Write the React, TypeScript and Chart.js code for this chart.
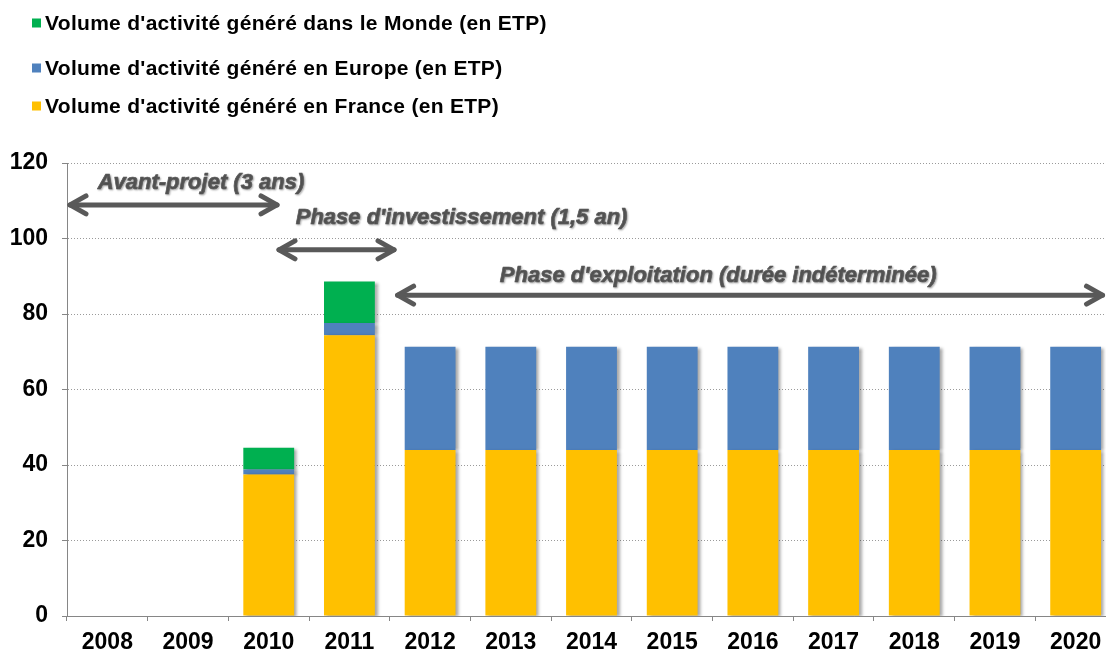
import React, { useEffect, useRef } from "react";
import { Chart, registerables } from "chart.js";

Chart.register(...registerables);

const years = ["2008", "2009", "2010", "2011", "2012", "2013", "2014", "2015", "2016", "2017", "2018", "2019", "2020"];
const franceValues = [null, null, 37.5, 74.4, 44, 44, 44, 44, 44, 44, 44, 44, 44];
const europeValues = [null, null, 1.3, 3.2, 27.3, 27.3, 27.3, 27.3, 27.3, 27.3, 27.3, 27.3, 27.3];
const mondeValues = [null, null, 5.8, 11, null, null, null, null, null, null, null, null, null];

const seriesLabels = [
  "Volume d'activité généré en France (en ETP)",
  "Volume d'activité généré en Europe (en ETP)",
  "Volume d'activité généré dans le Monde (en ETP)",
];
const seriesColors = ["#FFC000", "#4F81BD", "#00B050"];

const yTicks = [0, 20, 40, 60, 80, 100, 120];

const phaseLabels = [
  "Avant-projet (3 ans)",
  "Phase d'investissement (1,5 an)",
  "Phase d'exploitation (durée indéterminée)",
];
const phaseLabelX = [1.16, 4.39, 7.57];
const phaseLabelY = [114.8, 105.4, 90];
const phaseArrowStart = [-0.5, 2.09, 3.56];
const phaseArrowEnd = [2.14, 3.59, 12.37];
const phaseArrowY = [108.9, 97, 85];

const FONT = "'Liberation Sans', Arial, sans-serif";

const legendPlugin = {
  id: "customLegend",
  afterDraw(chart: any) {
    const ctx = chart.ctx;
    const ds = chart.data.datasets;
    const rowsY = [23, 68, 106];
    ctx.save();
    ctx.font = `bold 21px ${FONT}`;
    (ctx as any).letterSpacing = "0.3px";
    ctx.textBaseline = "middle";
    ctx.textAlign = "left";
    for (let r = 0; r < ds.length; r++) {
      const d = ds[ds.length - 1 - r];
      const y = rowsY[r];
      ctx.fillStyle = d.backgroundColor;
      ctx.fillRect(32, y - 4.5, 9, 9);
      ctx.fillStyle = "#000";
      ctx.fillText(d.label, 45, y + 1);
    }
    ctx.restore();
  },
};

const shadowPlugin = {
  id: "barShadow",
  beforeDatasetsDraw(chart: any) {
    const ctx = chart.ctx;
    ctx.save();
    ctx.shadowColor = "rgba(0,0,0,0.35)";
    ctx.shadowOffsetX = 3;
    ctx.shadowOffsetY = 1;
    ctx.shadowBlur = 3;
  },
  afterDatasetsDraw(chart: any) {
    chart.ctx.restore();
  },
};

function drawHead(ctx: CanvasRenderingContext2D, x: number, y: number, dir: number) {
  const len = 16;
  const spread = 9;
  ctx.beginPath();
  ctx.moveTo(x - dir * len, y - spread);
  ctx.lineTo(x, y);
  ctx.lineTo(x - dir * len, y + spread);
  ctx.stroke();
}

const phasePlugin = {
  id: "phases",
  afterDatasetsDraw(chart: any) {
    const ctx = chart.ctx;
    const xs = chart.scales.x;
    const ys = chart.scales.y;
    ctx.save();
    ctx.strokeStyle = "#595959";
    ctx.lineWidth = 5;
    ctx.lineCap = "round";
    ctx.lineJoin = "round";
    for (let i = 0; i < phaseLabels.length; i++) {
      const x1 = xs.getPixelForValue(phaseArrowStart[i]) + 3;
      const x2 = xs.getPixelForValue(phaseArrowEnd[i]) - 3;
      const y = ys.getPixelForValue(phaseArrowY[i]);
      ctx.beginPath();
      ctx.moveTo(x1, y);
      ctx.lineTo(x2, y);
      ctx.stroke();
      drawHead(ctx, x1, y, -1);
      drawHead(ctx, x2, y, 1);
    }
    ctx.font = `italic bold 22px ${FONT}`;
    (ctx as any).letterSpacing = "0px";
    ctx.textAlign = "center";
    ctx.textBaseline = "middle";
    ctx.fillStyle = "#595959";
    ctx.strokeStyle = "#595959";
    ctx.lineWidth = 0.7;
    ctx.shadowColor = "rgba(0,0,0,0.3)";
    ctx.shadowOffsetX = 1;
    ctx.shadowOffsetY = 1;
    ctx.shadowBlur = 2;
    for (let i = 0; i < phaseLabels.length; i++) {
      const px = xs.getPixelForValue(phaseLabelX[i]);
      const py = ys.getPixelForValue(phaseLabelY[i]);
      ctx.fillText(phaseLabels[i], px, py);
      ctx.strokeText(phaseLabels[i], px, py);
    }
    ctx.restore();
  },
};

export default function App() {
  const ref = useRef<HTMLCanvasElement | null>(null);
  useEffect(() => {
    if (!ref.current) return;
    const datasets = [franceValues, europeValues, mondeValues].map((vals, i) => ({
      label: seriesLabels[i],
      data: vals,
      backgroundColor: seriesColors[i],
      borderWidth: 0,
      stack: "s",
      barPercentage: 0.63,
      categoryPercentage: 1,
    }));
    const chart = new Chart(ref.current, {
      type: "bar",
      data: { labels: years, datasets },
      options: {
        responsive: false,
        animation: false,
        devicePixelRatio: 1,
        layout: { padding: { top: 163, left: 0, right: 14, bottom: 0 } },
        plugins: { legend: { display: false }, tooltip: { enabled: false } },
        scales: {
          x: {
            stacked: true,
            grid: { drawOnChartArea: false, drawTicks: true, tickLength: 5, color: "#868686", offset: true },
            border: { display: true, color: "#868686", width: 1 },
            ticks: { color: "#000", font: { family: FONT, size: 23, weight: "bold" }, padding: 8, maxRotation: 0, autoSkip: false },
            afterFit(scale: any) { scale.height = 36; },
          },
          y: {
            stacked: true,
            min: 0,
            max: 120,
            afterBuildTicks(scale: any) { scale.ticks = yTicks.map((v) => ({ value: v })); },
            grid: { color: "#9a9a9a", tickLength: 5, tickColor: "#868686", tickBorderDash: [] },
            border: { display: true, color: "#868686", width: 1, dash: [1, 2] },
            ticks: { color: "#000", font: { family: FONT, size: 23, weight: "bold" }, padding: 14 },
            afterFit(scale: any) { scale.width = 67; },
          },
        },
      },
      plugins: [shadowPlugin, phasePlugin, legendPlugin],
    } as any);
    return () => chart.destroy();
  }, []);
  return (
    <div style={{ position: "absolute", left: 0, top: 0, width: 1106, height: 652, overflow: "hidden", background: "#fff" }}>
      <canvas ref={ref} width={1130} height={652} style={{ display: "block" }} />
    </div>
  );
}
